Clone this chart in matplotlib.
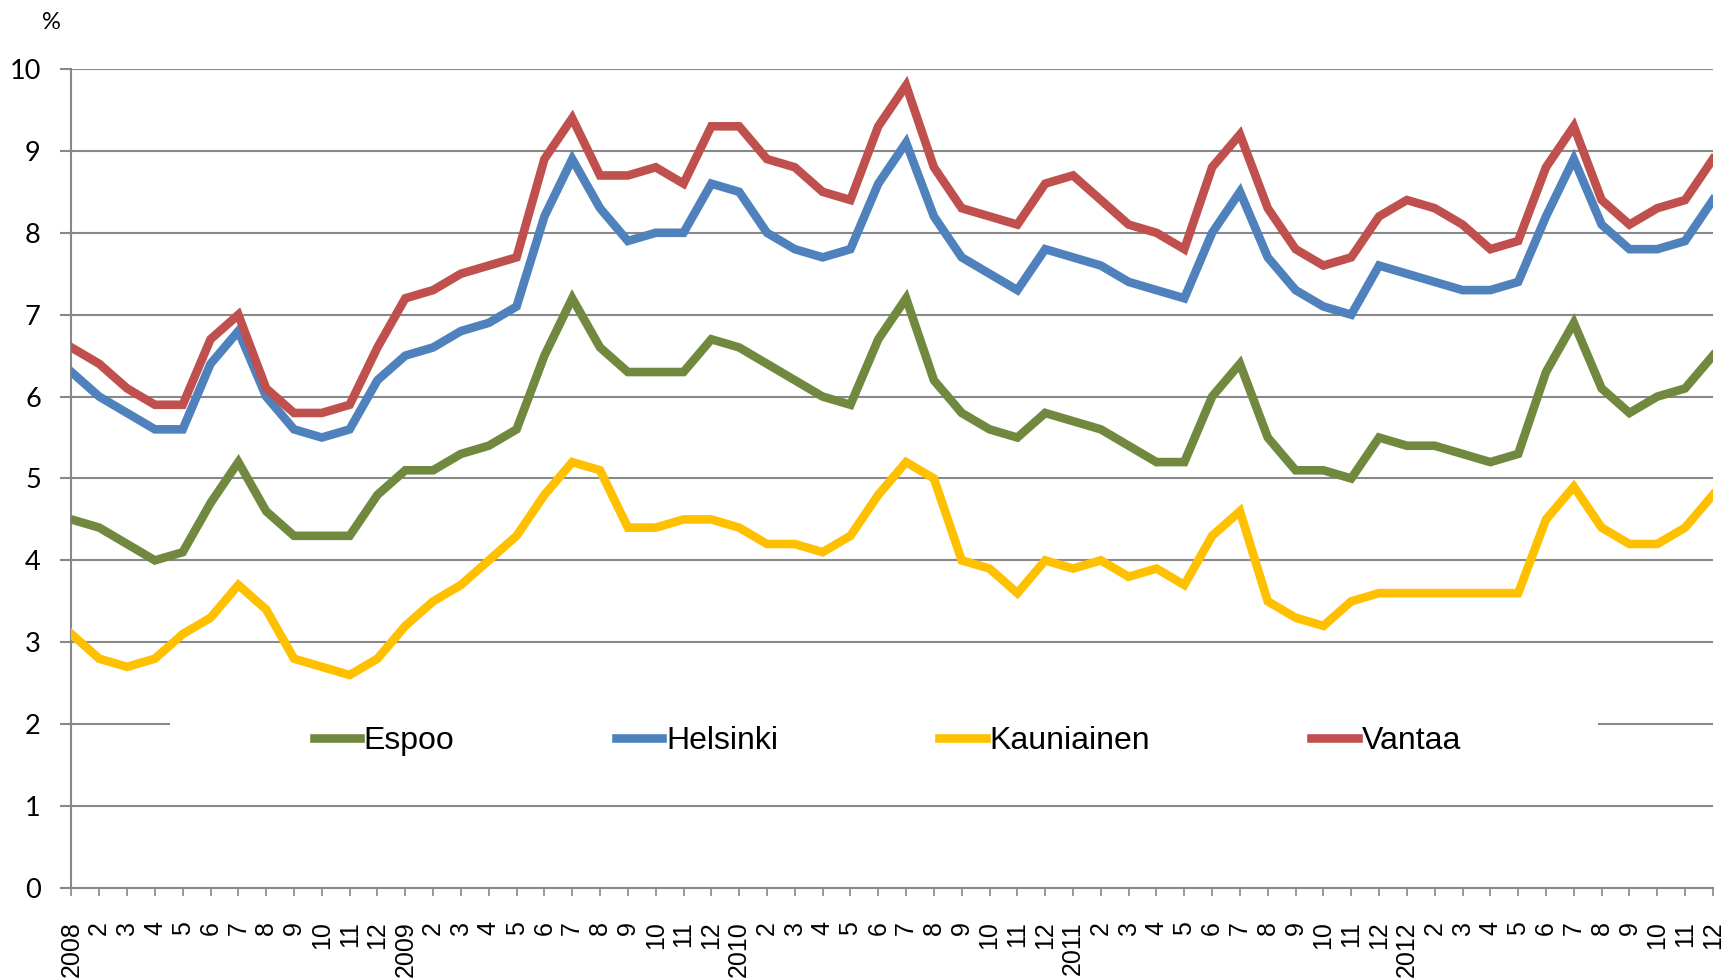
import matplotlib
matplotlib.use("Agg")
import matplotlib.pyplot as plt
from matplotlib.patches import Rectangle

# monthly values 2008-01 ... 2012-12
years = [2008, 2009, 2010, 2011, 2012]
months = list(range(1, 13))

espoo = [4.5, 4.4, 4.2, 4.0, 4.1, 4.7, 5.2, 4.6, 4.3, 4.3, 4.3, 4.8,
         5.1, 5.1, 5.3, 5.4, 5.6, 6.5, 7.2, 6.6, 6.3, 6.3, 6.3, 6.7,
         6.6, 6.4, 6.2, 6.0, 5.9, 6.7, 7.2, 6.2, 5.8, 5.6, 5.5, 5.8,
         5.7, 5.6, 5.4, 5.2, 5.2, 6.0, 6.4, 5.5, 5.1, 5.1, 5.0, 5.5,
         5.4, 5.4, 5.3, 5.2, 5.3, 6.3, 6.9, 6.1, 5.8, 6.0, 6.1, 6.5]
helsinki = [6.3, 6.0, 5.8, 5.6, 5.6, 6.4, 6.8, 6.0, 5.6, 5.5, 5.6, 6.2,
            6.5, 6.6, 6.8, 6.9, 7.1, 8.2, 8.9, 8.3, 7.9, 8.0, 8.0, 8.6,
            8.5, 8.0, 7.8, 7.7, 7.8, 8.6, 9.1, 8.2, 7.7, 7.5, 7.3, 7.8,
            7.7, 7.6, 7.4, 7.3, 7.2, 8.0, 8.5, 7.7, 7.3, 7.1, 7.0, 7.6,
            7.5, 7.4, 7.3, 7.3, 7.4, 8.2, 8.9, 8.1, 7.8, 7.8, 7.9, 8.4]
kauniainen = [3.1, 2.8, 2.7, 2.8, 3.1, 3.3, 3.7, 3.4, 2.8, 2.7, 2.6, 2.8,
              3.2, 3.5, 3.7, 4.0, 4.3, 4.8, 5.2, 5.1, 4.4, 4.4, 4.5, 4.5,
              4.4, 4.2, 4.2, 4.1, 4.3, 4.8, 5.2, 5.0, 4.0, 3.9, 3.6, 4.0,
              3.9, 4.0, 3.8, 3.9, 3.7, 4.3, 4.6, 3.5, 3.3, 3.2, 3.5, 3.6,
              3.6, 3.6, 3.6, 3.6, 3.6, 4.5, 4.9, 4.4, 4.2, 4.2, 4.4, 4.8]
vantaa = [6.6, 6.4, 6.1, 5.9, 5.9, 6.7, 7.0, 6.1, 5.8, 5.8, 5.9, 6.6,
          7.2, 7.3, 7.5, 7.6, 7.7, 8.9, 9.4, 8.7, 8.7, 8.8, 8.6, 9.3,
          9.3, 8.9, 8.8, 8.5, 8.4, 9.3, 9.8, 8.8, 8.3, 8.2, 8.1, 8.6,
          8.7, 8.4, 8.1, 8.0, 7.8, 8.8, 9.2, 8.3, 7.8, 7.6, 7.7, 8.2,
          8.4, 8.3, 8.1, 7.8, 7.9, 8.8, 9.3, 8.4, 8.1, 8.3, 8.4, 8.9]

series = [
    ("Espoo", espoo, "#71893F"),
    ("Helsinki", helsinki, "#4F81BD"),
    ("Kauniainen", kauniainen, "#FFC000"),
    ("Vantaa", vantaa, "#C0504D"),
]

# tick labels: year at January, month number otherwise
xlabels = [str(y) if m == 1 else str(m) for y in years for m in months]
x = list(range(len(xlabels)))

grid_col = "#888888"

fig = plt.figure(figsize=(17.25, 9.8), dpi=100, facecolor="white")
ax = fig.add_axes([0.0414, 0.0939, 0.9516, 0.8357])

for name, vals, col in series:
    ax.plot(x, vals, color=col, linewidth=6.2, solid_joinstyle="miter",
            label=name, zorder=3)

ax.set_xlim(0, len(x) - 1)
ax.set_ylim(0, 10)
ax.set_yticks(range(0, 11))
ax.yaxis.grid(True, color=grid_col, linewidth=1.5, zorder=0)
ax.set_axisbelow(True)

ax.set_xticks(x)
ax.set_xticklabels(xlabels, rotation=90, ha="center", va="top",
                   fontsize=18, family="Liberation Sans")
for lab in ax.get_yticklabels():
    lab.set_family("Lato")
    lab.set_fontsize(19.5)

ax.tick_params(axis="x", direction="out", length=6, width=1.2,
               color=grid_col, pad=18)
ax.tick_params(axis="y", direction="out", length=8, width=1.5,
               color=grid_col, pad=14)

for s in ["top", "right"]:
    ax.spines[s].set_visible(False)
for s in ["left", "bottom"]:
    ax.spines[s].set_color(grid_col)
    ax.spines[s].set_linewidth(1.5)

# white box behind the legend (it hides the grid line at 2)
ax.add_patch(Rectangle((0.06, 0.155), 0.87, 0.06, transform=ax.transAxes,
                       facecolor="white", edgecolor="none", zorder=1))

leg = ax.legend(loc="center", bbox_to_anchor=(0.497, 0.179), ncol=4,
                frameon=False, handlelength=1.45, handletextpad=0.12,
                columnspacing=5.05, prop={"family": "Liberation Sans", "size": 23})

fig.text(0.030, 0.977, "%", fontsize=17, family="Lato", ha="center", va="center")

fig.savefig("out.png", dpi=100, facecolor="white")
